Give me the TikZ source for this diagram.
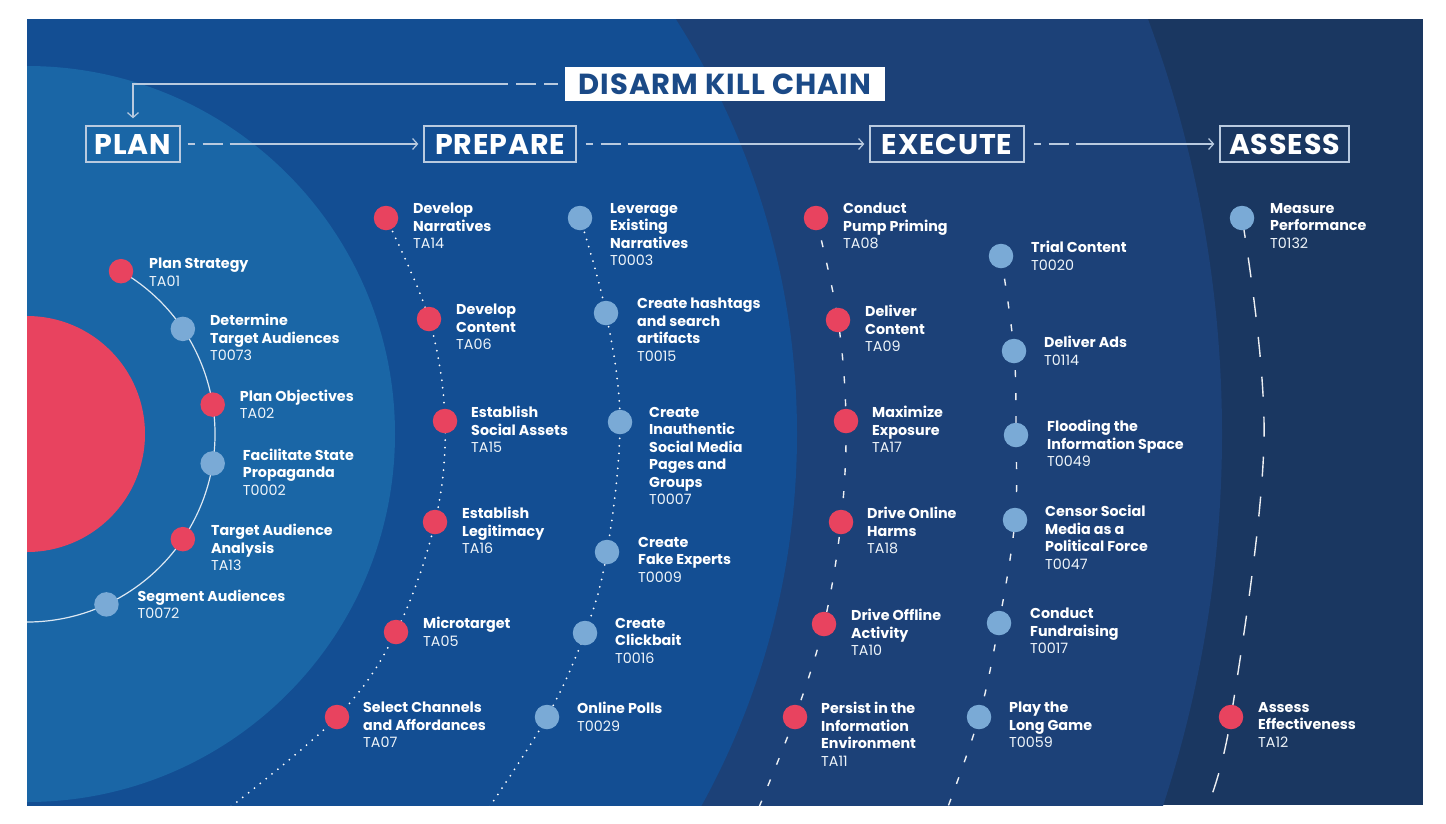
\documentclass[tikz,border=0pt]{standalone}
\usepackage{fontspec}
\setmainfont{Poppins}
\usetikzlibrary{arrows.meta,positioning}

\definecolor{kcnavy}{HTML}{1A3761}
\definecolor{kcmid}{HTML}{1C4178}
\definecolor{kcblue}{HTML}{134E93}
\definecolor{kcsky}{HTML}{1A66A6}
\definecolor{kcred}{HTML}{E8435F}
\definecolor{kclight}{HTML}{7AAAD6}
\definecolor{kcline}{HTML}{B9CADF}
\definecolor{kctitle}{HTML}{1B4A87}

\pgfdeclarelayer{back}
\pgfdeclarelayer{mid}
\pgfsetlayers{back,mid,main}

\newcommand{\tcode}[1]{{\mdseries\color{white!88!kclight}#1}}

\tikzset{
  reddot/.style={circle, fill=kcred, minimum size=24.5pt, inner sep=0pt},
  skydot/.style={circle, fill=kclight, minimum size=24.5pt, inner sep=0pt},
  lbl/.style={anchor=north west, align=left, inner sep=0pt, text=white,
    font=\fontsize{14.3}{17.5}\selectfont\bfseries, execute at begin node=\strut},
  stage/.style={draw=kcline, line width=1.3pt, inner sep=0pt, minimum height=36pt,
    text=white, font=\fontsize{28.5}{30}\selectfont\bfseries\addfontfeature{LetterSpace=3}},
  flow/.style={draw=kcline, line width=1.2pt, -{Straight Barb[length=5pt,width=11pt]}},
  planline/.style={draw=white!85!kcsky, line width=1.2pt},
  prepline/.style={draw=white, line width=2pt, line cap=round, dash pattern=on 0pt off 7.5pt},
  execline/.style={draw=white!92!kcmid, line width=1.4pt, dash pattern=on 7pt off 16pt},
  assessline/.style={draw=white!92!kcnavy, line width=1.4pt, dash pattern=on 20pt off 20pt}
}

\begin{document}
\begin{tikzpicture}[x=1pt, y=-1pt]
\useasboundingbox (0,0) rectangle (1446,823);
\coordinate (hub) at (27,434);

% background bands
\begin{pgfonlayer}{back}
  \fill[white] (0,0) rectangle (1446,823);
  \begin{scope}
    \clip (27,19) rectangle (1423,805);
    \fill[kcnavy] (27,19) rectangle (1423,805);
    \fill[kcmid] (hub) circle[radius=1195];
    \fill[kcblue] (hub) circle[radius=770];
    \fill[kcsky] (hub) circle[radius=368];
    \fill[kcred] (hub) circle[radius=118];
  \end{scope}
\end{pgfonlayer}

% headings
\node[fill=white, text=kctitle, minimum width=320pt, minimum height=34pt, inner sep=0pt,
  font=\fontsize{29}{30}\selectfont\bfseries\addfontfeature{LetterSpace=3.5}] (title) at (725,84) {DISARM KILL CHAIN};
\node[stage, minimum width=94pt] (plan) at (133,144) {PLAN};
\node[stage, minimum width=152pt] (prepare) at (500,144) {PREPARE};
\node[stage, minimum width=154pt] (execute) at (947,144) {EXECUTE};
\node[stage, minimum width=129pt] (assess) at (1284.5,144) {ASSESS};

\draw[flow, shorten <=7pt, shorten >=7pt, dash pattern=on 14pt off 8pt on 20pt off 8pt on 3000pt]
  (title.west) -| (plan.north);
\draw[flow, shorten <=7pt, shorten >=5pt, dash pattern=on 7pt off 8pt on 20pt off 7pt on 3000pt]
  (plan) -- (prepare);
\draw[flow, shorten <=9pt, shorten >=5pt, dash pattern=on 7pt off 8pt on 20pt off 7pt on 3000pt]
  (prepare) -- (execute);
\draw[flow, shorten <=9pt, shorten >=5pt, dash pattern=on 7pt off 8pt on 20pt off 7pt on 3000pt]
  (execute) -- (assess);

% plan
\node[reddot] (ta01) at ([shift={(-60:188)}]hub) {};
\node[lbl] at ([shift={(28,-13)}]ta01.center) {Plan Strategy\\\tcode{TA01}};
\node[skydot] (t0073) at ([shift={(-34:188)}]hub) {};
\node[lbl] at ([shift={(27,-15)}]t0073.center) {Determine\\Target Audiences\\\tcode{T0073}};
\node[reddot] (ta02) at ([shift={(-9:188)}]hub) {};
\node[lbl] at ([shift={(27,-15)}]ta02.center) {Plan Objectives\\\tcode{TA02}};
\node[skydot] (t0002) at ([shift={(9:188)}]hub) {};
\node[lbl] at ([shift={(30,-15)}]t0002.center) {Facilitate State\\Propaganda\\\tcode{T0002}};
\node[reddot] (ta13) at ([shift={(34:188)}]hub) {};
\node[lbl] at ([shift={(28,-15)}]ta13.center) {Target Audience\\Analysis\\\tcode{TA13}};
\node[skydot] (t0072) at ([shift={(65:188)}]hub) {};
\node[lbl] at ([shift={(31,-15)}]t0072.center) {Segment Audiences\\\tcode{T0072}};

% prepare
\node[reddot] (ta14) at (386,218) {};
\node[lbl] at ([shift={(27,-15)}]ta14.center) {Develop\\Narratives\\\tcode{TA14}};
\node[reddot] (ta06) at (429,319) {};
\node[lbl] at ([shift={(27,-15)}]ta06.center) {Develop\\Content\\\tcode{TA06}};
\node[reddot] (ta15) at (445,421) {};
\node[lbl] at ([shift={(26,-15)}]ta15.center) {Establish\\Social Assets\\\tcode{TA15}};
\node[reddot] (ta16) at (435,522) {};
\node[lbl] at ([shift={(27,-15)}]ta16.center) {Establish\\Legitimacy\\\tcode{TA16}};
\node[reddot] (ta05) at (396,632) {};
\node[lbl] at ([shift={(27,-15)}]ta05.center) {Microtarget\\\tcode{TA05}};
\node[reddot] (ta07) at (337,717) {};
\node[lbl] at ([shift={(26,-15)}]ta07.center) {Select Channels\\and Affordances\\\tcode{TA07}};

\node[skydot] (t0003) at (580,218) {};
\node[lbl] at ([shift={(30,-15)}]t0003.center) {Leverage\\Existing\\Narratives\\\tcode{T0003}};
\node[skydot] (t0015) at (606,313) {};
\node[lbl] at ([shift={(31,-15)}]t0015.center) {Create hashtags\\and search\\artifacts\\\tcode{T0015}};
\node[skydot] (t0007) at (620,422) {};
\node[lbl] at ([shift={(29,-15)}]t0007.center) {Create\\Inauthentic\\Social Media\\Pages and\\Groups\\\tcode{T0007}};
\node[skydot] (t0009) at (607,552) {};
\node[lbl] at ([shift={(31,-15)}]t0009.center) {Create\\Fake Experts\\\tcode{T0009}};
\node[skydot] (t0016) at (585,633) {};
\node[lbl] at ([shift={(30,-15)}]t0016.center) {Create\\Clickbait\\\tcode{T0016}};
\node[skydot] (t0029) at (547,717) {};
\node[lbl] at ([shift={(30,-15)}]t0029.center) {Online Polls\\\tcode{T0029}};

% execute
\node[reddot] (ta08) at (816,218) {};
\node[lbl] at ([shift={(27,-15)}]ta08.center) {Conduct\\Pump Priming\\\tcode{TA08}};
\node[reddot] (ta09) at (838,320) {};
\node[lbl] at ([shift={(27,-15)}]ta09.center) {Deliver\\Content\\\tcode{TA09}};
\node[reddot] (ta17) at (846,421) {};
\node[lbl] at ([shift={(26,-15)}]ta17.center) {Maximize\\Exposure\\\tcode{TA17}};
\node[reddot] (ta18) at (841,522) {};
\node[lbl] at ([shift={(26,-15)}]ta18.center) {Drive Online\\Harms\\\tcode{TA18}};
\node[reddot] (ta10) at (824,624) {};
\node[lbl] at ([shift={(27,-15)}]ta10.center) {Drive Offline\\Activity\\\tcode{TA10}};
\node[reddot] (ta11) at (795,717) {};
\node[lbl] at ([shift={(26,-15)}]ta11.center) {Persist in the\\Information\\Environment\\\tcode{TA11}};

\node[skydot] (t0020) at (1001,256) {};
\node[lbl] at ([shift={(30,-15)}]t0020.center) {Trial Content\\\tcode{T0020}};
\node[skydot] (t0114) at (1014,351) {};
\node[lbl] at ([shift={(30,-15)}]t0114.center) {Deliver Ads\\\tcode{T0114}};
\node[skydot] (t0049) at (1016,435) {};
\node[lbl] at ([shift={(31,-15)}]t0049.center) {Flooding the\\Information Space\\\tcode{T0049}};
\node[skydot] (t0047) at (1015,520) {};
\node[lbl] at ([shift={(30,-15)}]t0047.center) {Censor Social\\Media as a\\Political Force\\\tcode{T0047}};
\node[skydot] (t0017) at (999,623) {};
\node[lbl] at ([shift={(31,-15)}]t0017.center) {Conduct\\Fundraising\\\tcode{T0017}};
\node[skydot] (t0059) at (979,717) {};
\node[lbl] at ([shift={(30,-15)}]t0059.center) {Play the\\Long Game\\\tcode{T0059}};

% assess
\node[skydot] (t0132) at (1242,218) {};
\node[lbl] at ([shift={(28,-15)}]t0132.center) {Measure\\Performance\\\tcode{T0132}};
\node[reddot] (ta12) at (1231,717) {};
\node[lbl] at ([shift={(27,-15)}]ta12.center) {Assess\\Effectiveness\\\tcode{TA12}};

% tracks
\coordinate (prepend) at (224,812);
\coordinate (prepend2) at (486,812);
\coordinate (execend) at (757,812);
\coordinate (execend2) at (946,812);
\coordinate (asbend) at (1264,440);
\coordinate (asend) at (1205,812);
\begin{pgfonlayer}{mid}
  \clip (27,19) rectangle (1423,805);
  \draw[planline] (ta01.center) arc[start angle=-60, end angle=90, radius=188];
  \draw[prepline] plot[smooth, tension=0.6] coordinates {(ta14) (ta06) (ta15) (ta16) (ta05) (ta07) (prepend)};
  \draw[prepline] plot[smooth, tension=0.6] coordinates {(t0003) (t0015) (t0007) (t0009) (t0016) (t0029) (prepend2)};
  \draw[execline] plot[smooth, tension=0.6] coordinates {(ta08) (ta09) (ta17) (ta18) (ta10) (ta11) (execend)};
  \draw[execline] plot[smooth, tension=0.6] coordinates {(t0020) (t0114) (t0049) (t0047) (t0017) (t0059) (execend2)};
  \draw[assessline] plot[smooth, tension=0.6] coordinates {(t0132) (asbend) (ta12) (asend)};
\end{pgfonlayer}
\end{tikzpicture}
\end{document}
